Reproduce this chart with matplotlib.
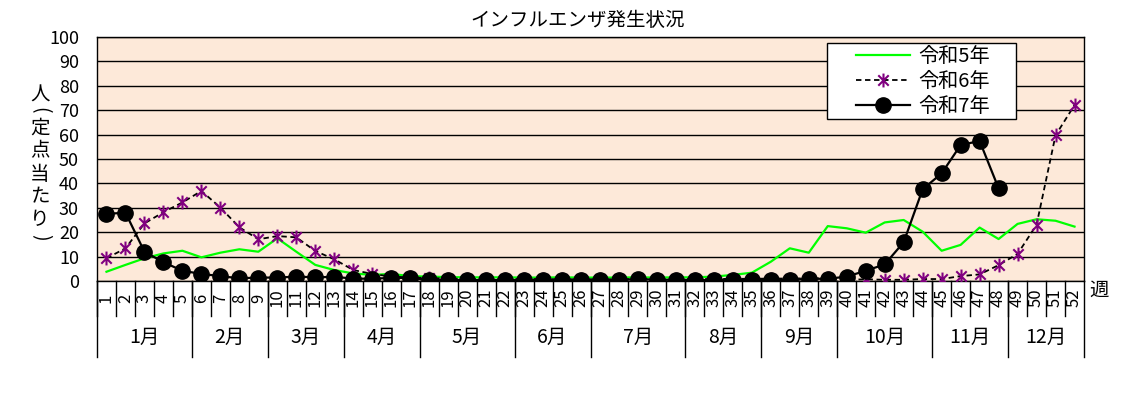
import numpy as np
import matplotlib.pyplot as plt
from matplotlib.path import Path
from matplotlib.patches import Rectangle

plt.rcParams['font.family'] = ['Noto Sans CJK JP', 'DejaVu Sans']

weeks = list(range(1, 53))

# 令和5年
r5 = [3.8, 6.6, 9.3, 11.3, 12.4, 9.7, 11.6, 13.0, 12.0, 17.5,
      12.0, 6.6, 4.5, 3.1, 2.5, 2.9, 2.0, 1.8, 1.6, 1.5,
      1.5, 1.5, 1.4, 1.4, 1.5, 1.4, 1.4, 1.4, 1.5, 1.4,
      1.5, 1.5, 1.8, 2.5, 3.4, 7.9, 13.4, 11.6, 22.5, 21.6,
      19.8, 24.0, 25.0, 20.2, 12.4, 14.8, 21.9, 17.2, 23.4, 25.3,
      24.7, 22.3]
# 令和6年
r6 = [9.3, 13.4, 23.6, 28.2, 32.2, 36.9, 30.1, 22.0, 17.1, 18.4,
      17.9, 12.3, 8.9, 4.5, 2.9, 1.8, 1.5, 1.2, 1.0, 0.9,
      0.9, 0.8, 0.8, 0.8, 0.7, 0.7, 0.7, 0.7, 0.8, 0.8,
      0.8, 0.8, 0.8, 0.9, 0.9, 1.0, 1.0, 1.1, 1.1, 0.5,
      0.7, 0.5, 0.5, 0.8, 0.8, 2.0, 2.7, 6.5, 11.1, 23.0,
      59.7, 72.1]
# 令和7年 (48週まで)
r7 = [27.5, 28.0, 12.0, 7.7, 4.2, 2.9, 2.0, 1.1, 1.4, 1.4,
      1.8, 1.5, 1.7, 1.0, 0.9, 1.3, 1.2, 0.5, 0.4, 0.4,
      0.4, 0.4, 0.4, 0.4, 0.4, 0.4, 0.4, 0.4, 0.8, 0.5,
      0.5, 0.4, 0.4, 0.4, 0.4, 0.4, 0.4, 0.9, 0.9, 1.8,
      4.2, 6.8, 15.9, 37.6, 44.1, 55.7, 57.4, 38.0]

months = ['1月', '2月', '3月', '4月', '5月', '6月', '7月', '8月', '9月', '10月', '11月', '12月']
month_weeks = [5, 4, 4, 4, 5, 4, 5, 4, 4, 5, 4, 4]

# 縦書きラベル: 文字, y位置(px), 回転
ylabel_chars = ['人', '(', '定', '点', '当', 'た', 'り', ')']
ylabel_ypx = [95, 110, 128, 151, 174, 197, 220, 237]
ylabel_rot = [0, -90, 0, 0, 0, 0, 0, -90]

# Excelの * マーカー(縦線 + ×)
star = Path([(0, -1), (0, 1), (-0.75, -0.75), (0.75, 0.75), (-0.75, 0.75), (0.75, -0.75)],
            [Path.MOVETO, Path.LINETO, Path.MOVETO, Path.LINETO, Path.MOVETO, Path.LINETO])

fig = plt.figure(figsize=(11.25, 3.94), dpi=100)
ax = fig.add_axes([97 / 1125, 113 / 394, 987 / 1125, 244 / 394])
ax.set_facecolor('#FDE9D9')

ax.plot(weeks, r5, color='#00FF00', lw=1.6, label='令和5年', zorder=3)
ax.plot(weeks, r6, color='black', lw=1.3, ls=(0, (3, 2)), marker=star, ms=10,
        mec='#800080', mfc='none', mew=1.5, label='令和6年', zorder=4)
ax.plot(weeks[:len(r7)], r7, color='black', lw=1.6, marker='o', ms=11,
        mfc='black', mec='black', label='令和7年', zorder=5)

ax.set_xlim(0.5, 52.5)
ax.set_ylim(0, 100)
ax.set_yticks(range(0, 101, 10))
ax.yaxis.grid(True, color='black', lw=1)
ax.set_axisbelow(True)
ax.tick_params(axis='y', length=0, labelsize=13, pad=13)
ax.set_xticks([])
for s in ax.spines.values():
    s.set_color('black')
    s.set_linewidth(1)

tr = ax.get_xaxis_transform()
# 週ラベル
for w in weeks:
    ax.text(w, -0.07, str(w), transform=tr, rotation=90, ha='center', va='center', fontsize=12)
for w in range(52):
    ax.plot([w + 0.5, w + 0.5], [0, -0.143], transform=tr, color='black', lw=1, clip_on=False)
# 月ラベル
start = 0.5
for m, n in zip(months, month_weeks):
    ax.plot([start, start], [0, -0.312], transform=tr, color='black', lw=1, clip_on=False)
    ax.text(start + n / 2, -0.233, m, transform=tr, ha='center', va='center', fontsize=14)
    start += n
ax.plot([start, start], [0, -0.312], transform=tr, color='black', lw=1, clip_on=False)

ax.text(53.3, -0.04, '週', transform=tr, ha='center', va='center', fontsize=14)

fig.text(578 / 1125, 1 - 20 / 394, 'インフルエンザ発生状況', ha='center', va='center', fontsize=14)
for ch, ypx, rot in zip(ylabel_chars, ylabel_ypx, ylabel_rot):
    fig.text(40 / 1125, 1 - ypx / 394, ch, ha='center', va='center', fontsize=14,
             rotation=rot, rotation_mode='anchor')

# 凡例枠
box = Rectangle((827 / 1125, 1 - 119 / 394), 189 / 1125, 76 / 394, transform=fig.transFigure,
                facecolor='white', edgecolor='black', lw=1, zorder=6, clip_on=False)
ax.add_artist(box)
leg = ax.legend(loc='upper left', bbox_to_anchor=((856 - 97) / 987, (281 - 46) / 244),
                fontsize=14.5, frameon=False, handlelength=2.7, borderpad=0, labelspacing=0.2,
                handletextpad=0.4, borderaxespad=0)
leg.set_zorder(7)

fig.savefig('out.png', dpi=100)
